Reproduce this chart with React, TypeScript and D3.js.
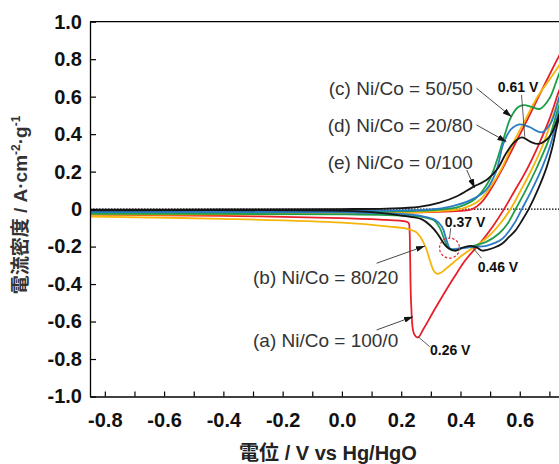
import { useEffect, useRef } from 'react';
import * as d3 from 'd3';

type Pt = [number, number];

// x tick positions (every 0.1 V), labelled majors
const xTicks = [-0.8, -0.7, -0.6, -0.5, -0.4, -0.3, -0.2, -0.1, 0, 0.1, 0.2, 0.3, 0.4, 0.5, 0.6, 0.7];
const xLabels = [-0.8, -0.6, -0.4, -0.2, 0, 0.2, 0.4, 0.6];
const yTicks = [1, 0.8, 0.6, 0.4, 0.2, 0, -0.2, -0.4, -0.6, -0.8, -1];

// (a) Ni/Co = 100/0
const redForward: Pt[] = [
  [-0.85, -0.025], [-0.4, -0.023], [0.0, -0.02], [0.3, -0.016], [0.4, -0.01], [0.44, 0.0],
  [0.47, 0.035], [0.5, 0.1], [0.538, 0.205], [0.572, 0.31], [0.62, 0.46], [0.67, 0.62],
  [0.73, 0.81], [0.77, 0.92],
];
const redReverse: Pt[] = [
  [0.77, 0.8], [0.73, 0.62], [0.7, 0.48], [0.66, 0.33], [0.62, 0.2], [0.58, 0.09], [0.547, 0.0],
  [0.51, -0.09], [0.473, -0.168], [0.417, -0.272], [0.38, -0.36], [0.317, -0.524], [0.275, -0.64],
  [0.256, -0.685], [0.243, -0.665], [0.234, -0.52], [0.23, -0.25], [0.228, -0.11], [0.224, -0.072],
  [0.15, -0.058], [0.0, -0.048], [-0.4, -0.036], [-0.85, -0.03],
];

// (b) Ni/Co = 80/20
const yellowForward: Pt[] = [
  [-0.85, -0.03], [-0.4, -0.028], [0.0, -0.025], [0.25, -0.018], [0.35, -0.008], [0.405, 0.003],
  [0.462, 0.045], [0.5, 0.116], [0.54, 0.22], [0.58, 0.36], [0.62, 0.48], [0.66, 0.6], [0.7, 0.69],
  [0.73, 0.76], [0.77, 0.86],
];
const yellowReverse: Pt[] = [
  [0.77, 0.75], [0.73, 0.58], [0.68, 0.35], [0.64, 0.21], [0.6, 0.09], [0.569, 0.0], [0.53, -0.085],
  [0.495, -0.145], [0.462, -0.185], [0.405, -0.248], [0.361, -0.305], [0.335, -0.338], [0.322, -0.346],
  [0.31, -0.33], [0.298, -0.28], [0.283, -0.205], [0.265, -0.15], [0.25, -0.122], [0.22, -0.105],
  [0.16, -0.093], [0.0, -0.072], [-0.4, -0.052], [-0.85, -0.04],
];

// (c) Ni/Co = 50/50
const greenForward: Pt[] = [
  [-0.85, -0.02], [-0.4, -0.018], [0.0, -0.015], [0.25, -0.01], [0.35, 0.0], [0.4, 0.015],
  [0.45, 0.055], [0.496, 0.15], [0.525, 0.27], [0.55, 0.4], [0.57, 0.49], [0.595, 0.545],
  [0.615, 0.555], [0.64, 0.545], [0.668, 0.535], [0.7, 0.59], [0.73, 0.71], [0.77, 0.86],
];
const greenReverse: Pt[] = [
  [0.77, 0.72], [0.73, 0.54], [0.7, 0.38], [0.66, 0.23], [0.62, 0.1], [0.586, 0.0], [0.56, -0.075],
  [0.53, -0.13], [0.49, -0.172], [0.44, -0.198], [0.4, -0.21], [0.372, -0.22], [0.358, -0.205],
  [0.345, -0.16], [0.33, -0.1], [0.31, -0.06], [0.27, -0.042], [0.15, -0.032], [0.0, -0.028],
  [-0.85, -0.025],
];

// (d) Ni/Co = 20/80
const blueForward: Pt[] = [
  [-0.85, -0.012], [-0.4, -0.01], [0.0, -0.008], [0.3, -0.002], [0.37, 0.015], [0.43, 0.045],
  [0.485, 0.1], [0.52, 0.2], [0.545, 0.35], [0.57, 0.425], [0.6, 0.452], [0.63, 0.44],
  [0.675, 0.41], [0.705, 0.46], [0.73, 0.58], [0.77, 0.78],
];
const blueReverse: Pt[] = [
  [0.77, 0.7], [0.73, 0.51], [0.705, 0.35], [0.675, 0.22], [0.64, 0.1], [0.607, 0.0], [0.58, -0.08],
  [0.54, -0.16], [0.49, -0.195], [0.43, -0.204], [0.385, -0.212], [0.366, -0.212], [0.352, -0.16],
  [0.338, -0.095], [0.315, -0.058], [0.27, -0.038], [0.2, -0.026], [0.0, -0.018], [-0.85, -0.016],
];

// (e) Ni/Co = 0/100
const blackForward: Pt[] = [
  [-0.85, -0.003], [-0.4, -0.002], [0.0, 0.0], [0.15, 0.003], [0.26, 0.012], [0.33, 0.035],
  [0.39, 0.07], [0.44, 0.116], [0.49, 0.158], [0.525, 0.215], [0.553, 0.295], [0.58, 0.355],
  [0.607, 0.383], [0.635, 0.36], [0.664, 0.348], [0.7, 0.385], [0.73, 0.49], [0.76, 0.62],
];
const blackReverse: Pt[] = [
  [0.76, 0.6], [0.73, 0.47], [0.71, 0.33], [0.69, 0.22], [0.66, 0.1], [0.63, 0.0], [0.608, -0.06],
  [0.585, -0.115], [0.563, -0.15], [0.54, -0.185], [0.515, -0.205], [0.49, -0.217], [0.473, -0.221],
  [0.455, -0.205], [0.435, -0.196], [0.408, -0.205], [0.385, -0.222], [0.362, -0.212], [0.345, -0.186],
  [0.322, -0.13], [0.3, -0.09], [0.27, -0.055], [0.2, -0.035], [0.127, -0.02], [0.0, -0.01],
  [-0.85, -0.007],
];

const series = [
  { color: '#e8202a', pts: [...redForward, ...redReverse] },
  { color: '#f5b50a', pts: [...yellowForward, ...yellowReverse] },
  { color: '#1e9e48', pts: [...greenForward, ...greenReverse] },
  { color: '#2b7cc4', pts: [...blueForward, ...blueReverse] },
  { color: '#151515', pts: [...blackForward, ...blackReverse] },
];

// curve labels: text, anchor point (V, j), text-anchor
const curveLabels: [string, number, number, string][] = [
  ['(c) Ni/Co = 50/50', 0.442, 0.645, 'end'],
  ['(d) Ni/Co = 20/80', 0.442, 0.449, 'end'],
  ['(e) Ni/Co = 0/100', 0.442, 0.253, 'end'],
  ['(b) Ni/Co = 80/20', -0.3, -0.361, 'start'],
  ['(a) Ni/Co = 100/0', -0.3, -0.699, 'start'],
];
// arrows from label to curve: [V1, j1, V2, j2]
const arrows: [number, number, number, number][] = [
  [0.454, 0.645, 0.572, 0.493],
  [0.454, 0.449, 0.555, 0.36],
  [0.421, 0.209, 0.448, 0.113],
  [0.117, -0.289, 0.28, -0.197],
  [0.117, -0.645, 0.24, -0.574],
];
// peak labels
const peakLabels: [string, number, number][] = [
  ['0.61 V', 0.526, 0.653],
  ['0.37 V', 0.347, -0.067],
  ['0.46 V', 0.458, -0.307],
  ['0.26 V', 0.297, -0.752],
];
const peakPointers: [number, number, number, number][] = [
  [0.606, 0.609, 0.617, 0.386],
  [0.367, -0.102, 0.363, -0.155],
  [0.471, -0.262, 0.443, -0.209],
  [0.296, -0.734, 0.257, -0.681],
];
const circleAt: Pt = [0.363, -0.208];

const W = 559;
const H = 464;
const sans = '"Liberation Sans", Arial, Helvetica, sans-serif';
const cjk = '"Liberation Sans", "Noto Sans CJK JP", sans-serif';

// plain hyphen minus, like the original
const fmt1 = (v: number) => v.toFixed(1);

const App = () => {
  const ref = useRef<SVGSVGElement>(null);

  useEffect(() => {
    const svg = d3.select(ref.current);
    svg.selectAll('*').remove();

    const left = 90, right = 559, top = 21.7, bottom = 396.5;
    const x = d3.scaleLinear().domain([-0.85, 0.7324]).range([left, right]);
    const y = d3.scaleLinear().domain([-1, 1]).range([bottom, top]);

    const defs = svg.append('defs');
    defs.append('clipPath').attr('id', 'plot')
      .append('rect')
      .attr('x', left).attr('y', top)
      .attr('width', right - left).attr('height', bottom - top);
    defs.append('marker')
      .attr('id', 'arr')
      .attr('viewBox', '0 0 9 6')
      .attr('refX', 9).attr('refY', 3)
      .attr('markerWidth', 9).attr('markerHeight', 6)
      .attr('markerUnits', 'userSpaceOnUse')
      .attr('orient', 'auto')
      .append('path').attr('d', 'M0,0L9,3L0,6Z').attr('fill', '#111');

    // zero line
    svg.append('line')
      .attr('x1', left).attr('x2', right)
      .attr('y1', y(0)).attr('y2', y(0))
      .attr('stroke', '#000').attr('stroke-width', 1.2)
      .attr('stroke-dasharray', '1.5,1.5');

    const line = d3.line<Pt>()
      .x(d => x(d[0]))
      .y(d => y(d[1]))
      .curve(d3.curveCatmullRom.alpha(0.5));

    svg.append('g')
      .attr('clip-path', 'url(#plot)')
      .attr('fill', 'none')
      .attr('stroke-width', 1.8)
      .attr('stroke-linejoin', 'round')
      .selectAll('path')
      .data(series)
      .join('path')
      .attr('stroke', d => d.color)
      .attr('d', d => line(d.pts));

    // axes
    svg.append('g')
      .attr('transform', `translate(${left},0)`)
      .call(d3.axisLeft(y).tickValues(yTicks).tickSize(-6).tickSizeOuter(0).tickPadding(8)
        .tickFormat(d => (+d === 0 ? '0' : fmt1(+d))))
      .call(g => g.select('.domain').attr('stroke-width', 1.3))
      .call(g => g.selectAll('.tick line').attr('stroke-width', 1.2))
      .call(g => g.selectAll('.tick text')
        .attr('font-family', sans).attr('font-size', 20).attr('font-weight', 'bold').attr('fill', '#111'));

    svg.append('g')
      .attr('transform', `translate(0,${bottom})`)
      .call(d3.axisBottom(x).tickValues(xTicks).tickSize(-5).tickSizeOuter(0).tickPadding(16)
        .tickFormat(d => (xLabels.some(v => Math.abs(v - +d) < 1e-9) ? fmt1(+d) : '')))
      .call(g => g.select('.domain').attr('stroke-width', 1.3))
      .call(g => g.selectAll('.tick line').attr('stroke-width', 1.2))
      .call(g => g.selectAll('.tick text')
        .attr('font-family', sans).attr('font-size', 20).attr('font-weight', 'bold').attr('fill', '#111'));

    svg.append('line')
      .attr('x1', left).attr('x2', right)
      .attr('y1', top).attr('y2', top)
      .attr('stroke', '#000').attr('stroke-width', 1.3);

    // axis titles
    svg.append('text')
      .attr('x', 328).attr('y', 460)
      .attr('text-anchor', 'middle')
      .attr('font-family', cjk).attr('font-size', 20).attr('font-weight', 'bold').attr('fill', '#222')
      .text('電位 / V vs Hg/HgO');

    const yt = svg.append('text')
      .attr('transform', 'translate(27,205) rotate(-90)')
      .attr('text-anchor', 'middle')
      .attr('font-family', cjk).attr('font-size', 19).attr('font-weight', 'bold').attr('fill', '#333');
    yt.append('tspan').text('電流密度 / A·cm');
    yt.append('tspan').attr('font-size', 12).attr('dy', -7).text('-2');
    yt.append('tspan').attr('dy', 7).text('·g');
    yt.append('tspan').attr('font-size', 12).attr('dy', -7).text('-1');

    // curve labels and arrows
    svg.append('g')
      .selectAll('text')
      .data(curveLabels)
      .join('text')
      .attr('x', d => x(d[1])).attr('y', d => y(d[2]))
      .attr('dy', '0.36em')
      .attr('text-anchor', d => d[3])
      .attr('font-family', sans).attr('font-size', 19).attr('fill', '#333')
      .text(d => d[0]);

    svg.append('g')
      .selectAll('line')
      .data(arrows)
      .join('line')
      .attr('x1', d => x(d[0])).attr('y1', d => y(d[1]))
      .attr('x2', d => x(d[2])).attr('y2', d => y(d[3]))
      .attr('stroke', '#333').attr('stroke-width', 0.9)
      .attr('marker-end', 'url(#arr)');

    // peak labels
    svg.append('g')
      .selectAll('text')
      .data(peakLabels)
      .join('text')
      .attr('x', d => x(d[1])).attr('y', d => y(d[2]))
      .attr('dy', '0.36em')
      .attr('font-family', sans).attr('font-size', 14).attr('font-weight', 'bold').attr('fill', '#111')
      .text(d => d[0]);

    svg.append('g')
      .selectAll('line')
      .data(peakPointers)
      .join('line')
      .attr('x1', d => x(d[0])).attr('y1', d => y(d[1]))
      .attr('x2', d => x(d[2])).attr('y2', d => y(d[3]))
      .attr('stroke', '#333').attr('stroke-width', 0.8);

    svg.append('circle')
      .attr('cx', x(circleAt[0])).attr('cy', y(circleAt[1]))
      .attr('r', 10)
      .attr('fill', 'none')
      .attr('stroke', '#e8202a').attr('stroke-width', 1.2)
      .attr('stroke-dasharray', '2.5,2');
  }, []);

  return (
    <svg
      ref={ref}
      width={W}
      height={H}
      style={{ position: 'absolute', left: 0, top: 0, background: '#fff' }}
    />
  );
};

export default App;
